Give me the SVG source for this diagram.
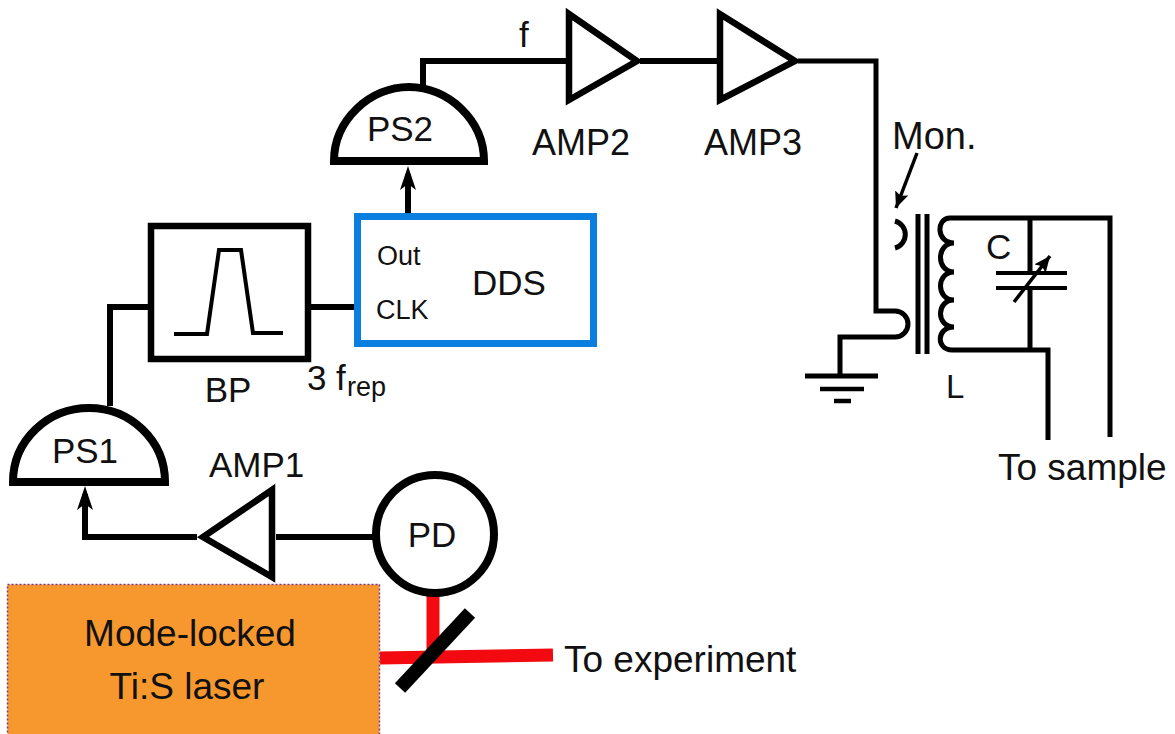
<svg xmlns="http://www.w3.org/2000/svg" width="1175" height="734" viewBox="0 0 1175 734">
<style>
text{font-family:"Liberation Sans",Arial,sans-serif;fill:#111;font-size:35px}
.w,.t,.s{fill:none;stroke:#000;stroke-linejoin:miter}
.w{stroke-width:6}
.t{stroke-width:5}
.s{stroke-width:8}
.n{stroke:#000;stroke-width:6.500;fill:#fff}
.m{text-anchor:middle}
.sm{font-size:27px}
.lg{font-size:37px}
</style>
<defs>
<marker id="barb" markerUnits="userSpaceOnUse" markerWidth="26" markerHeight="20" refX="16" refY="9" orient="auto">
<path d="M0 1 L24 9 L0 17 L6 9 Z" fill="#000"/>
</marker>
<marker id="small" markerUnits="userSpaceOnUse" markerWidth="20" markerHeight="20" refX="16" refY="7" orient="auto">
<path d="M0 0 L16 7 L0 14 L3 7 Z" fill="#000"/>
</marker>
</defs>
<rect width="1175" height="734" fill="#fff"/>
<g id="connectors">
<path class="w" d="M110 406V307H150"/>
<path class="w" d="M311 307H355"/>
<path class="w" d="M408 213V174" marker-end="url(#barb)"/>
<path class="w" d="M423 85V61H566"/>
<path class="w" d="M640 61H718"/>
<path class="t" d="M798 61H876V311H895A13 13 0 0 1 895 337H840V376"/>
<path class="w" d="M373 537H276"/>
<path class="w" d="M197 537H85V494" marker-end="url(#barb)"/>
<path d="M433 594V656" fill="none" stroke="#f30a10" stroke-width="13"/>
<path d="M380 658L553 655" fill="none" stroke="#f30a10" stroke-width="13"/>
<path d="M917 153L896 208" fill="none" stroke="#000" stroke-width="3.500" marker-end="url(#small)"/>
</g>
<g id="laser">
<rect x="7.500" y="584.500" width="372" height="152" fill="#f7982e" stroke="#7a3a8c" stroke-width="1.500" stroke-dasharray="2 2"/>
<text class="m lg" x="190" y="646">Mode-locked</text>
<text class="m lg" x="187" y="699">Ti:S laser</text>
</g>
<g id="mirror"><path d="M470 613L400 688" stroke="#000" stroke-width="14" fill="none"/></g>
<g id="pd">
<circle class="s" cx="435" cy="534" r="59" fill="#fff"/>
<text class="m" x="432" y="547">PD</text>
</g>
<g id="amp1">
<path class="n" d="M272 490V577L203 537Z"/>
<text x="209" y="477">AMP1</text>
</g>
<g id="ps1">
<path class="s" fill="none" d="M13 482H165C165 440 130 408 89 408C48 408 13 440 13 482Z"/>
<text class="m" x="85" y="463">PS1</text>
</g>
<g id="bp">
<rect class="n" x="151" y="226" width="157" height="133"/>
<path d="M174 334H207L219 250H241L253 333H283" fill="none" stroke="#000" stroke-width="4"/>
<text class="m" x="228" y="402">BP</text>
</g>
<text x="307" y="390">3</text>
<text x="336" y="390">f</text>
<text x="347" y="396" class="sm">rep</text>
<g id="dds">
<rect x="357.500" y="216.500" width="236" height="127" fill="#fff" stroke="#0a7fe0" stroke-width="7"/>
<text x="377" y="265" class="sm">Out</text>
<text x="376" y="319" class="sm">CLK</text>
<text x="472" y="295">DDS</text>
</g>
<g id="ps2">
<path class="s" fill="none" d="M334 161H484C484 120 448 87 409 87C370 87 334 120 334 161Z"/>
<text class="m" x="400" y="141">PS2</text>
</g>
<text x="519" y="47">f</text>
<g id="amp2">
<path class="n" d="M569 14V100L637 61Z"/>
<text x="532" y="155" style="font-size:36px">AMP2</text>
</g>
<g id="amp3">
<path class="n" d="M720 14V100L795 61Z"/>
<text x="704" y="155" style="font-size:36px">AMP3</text>
</g>
<g id="ground">
<path d="M805 376H878" stroke="#000" stroke-width="5"/>
<path d="M820 389H864" stroke="#000" stroke-width="4.500"/>
<path d="M834 401H851" stroke="#000" stroke-width="4.500"/>
</g>
<g id="transformer">
<path class="t" d="M895 221A14 14 0 0 1 895 248"/>
<path class="t" d="M918 214V354M927 214V354"/>
<path class="t" d="M1110 437V218H950C936 218 936 243 954 243C936 243 936 272 954 272C936 272 936 300 954 300C936 300 936 327 954 327C936 327 936 350 952 350H1048V440"/>
<path class="t" d="M1030 218V273M1030 288V350"/>
<path d="M996 273H1067M996 288H1067" stroke="#000" stroke-width="4" fill="none"/>
<path d="M1014 302L1050 256" fill="none" stroke="#000" stroke-width="3.500" marker-end="url(#small)"/>
<text x="986" y="259">C</text>
<text x="946" y="398" style="font-size:33px">L</text>
<text x="892" y="149" style="font-size:38px">Mon.</text>
<text x="998" y="480" class="lg">To sample</text>
</g>
<text x="564" y="672" class="lg">To experiment</text>
</svg>
